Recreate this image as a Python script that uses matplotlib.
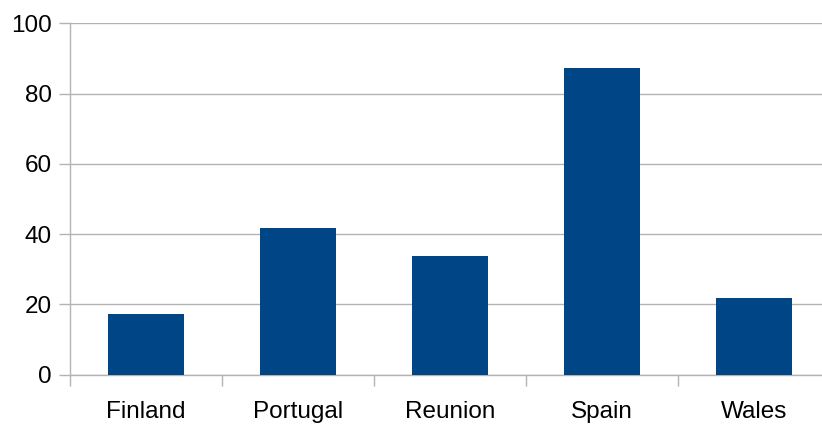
import matplotlib
matplotlib.use("Agg")
import matplotlib.pyplot as plt
import numpy as np

# chart data
countries = ["Finland", "Portugal", "Reunion", "Spain", "Wales"]
values = [17.2, 41.7, 33.7, 87.4, 21.8]
y_ticks = [0, 20, 40, 60, 80, 100]

plt.rcParams["font.family"] = ["Liberation Sans", "DejaVu Sans"]

fig = plt.figure(figsize=(8.22, 4.26), dpi=100)
# the plot runs a little past the right edge of the image, as in the original
ax = fig.add_axes([70 / 822, 51.3 / 426, 760 / 822, 351.4 / 426])

x = np.arange(len(countries))
ax.bar(x, values, width=0.5, color="#004586", zorder=3)

ax.set_xlim(-0.5, len(countries) - 0.5)
ax.set_ylim(0, 100)
ax.set_yticks(y_ticks)
ax.yaxis.grid(True, color="#b3b3b3", linewidth=1)
ax.set_axisbelow(True)

# labels centred under bars, tick marks at the category boundaries
ax.set_xticks(x)
ax.set_xticklabels(countries)
ax.set_xticks(np.arange(len(countries) + 1) - 0.5, minor=True)
ax.tick_params(axis="x", which="major", length=0, pad=19, labelsize=17.5)
ax.tick_params(axis="x", which="minor", length=8, color="#b3b3b3", width=1)
ax.tick_params(axis="y", length=8, color="#b3b3b3", width=1, pad=5, labelsize=17.5)

for side in ["top", "right"]:
    ax.spines[side].set_visible(False)
for side in ["left", "bottom"]:
    ax.spines[side].set_color("#b3b3b3")
    ax.spines[side].set_linewidth(1)

fig.savefig("out.png", dpi=100)
